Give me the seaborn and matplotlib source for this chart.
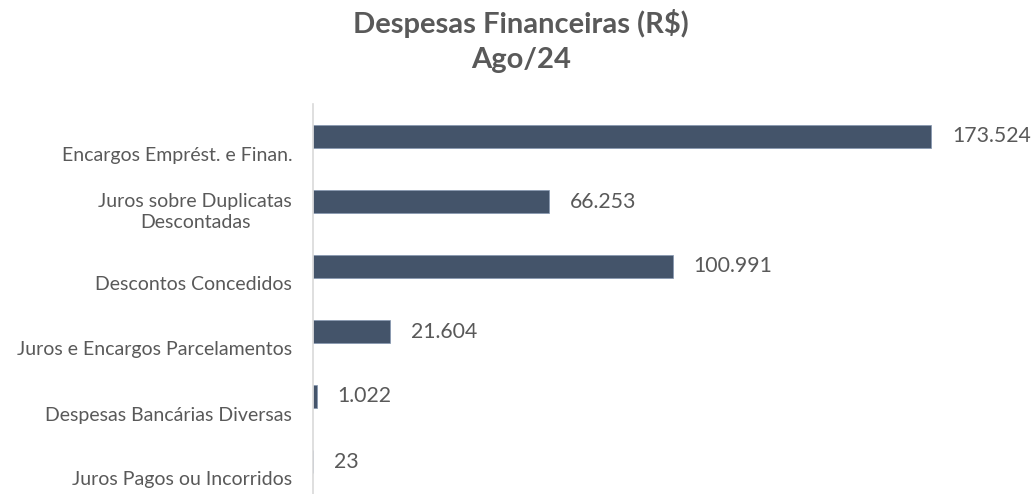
import matplotlib
matplotlib.use("Agg")
import matplotlib.pyplot as plt
import matplotlib.transforms as mtransforms
import pandas as pd
import seaborn as sns

# dados do grafico (R$, Ago/24)
categorias = [
    "Encargos Emprést. e Finan.",
    "Juros sobre Duplicatas\nDescontadas",
    "Descontos Concedidos",
    "Juros e Encargos Parcelamentos",
    "Despesas Bancárias Diversas",
    "Juros Pagos ou Incorridos",
]
valores = [173524, 66253, 100991, 21604, 1022, 23]

df = pd.DataFrame({"categoria": categorias, "valor": valores})

sns.set_style("white")
plt.rcParams["font.family"] = ["Lato", "DejaVu Sans"]

cor_barra = "#44546A"
cor_texto = "#595959"

fig = plt.figure(figsize=(10.35, 4.94), dpi=100)
# area do grafico: eixo em x=313px, topo em y=104px
ax = fig.add_axes([313 / 1035, 0.0, 687 / 1035, 390 / 494])

sns.barplot(data=df, x="valor", y="categoria", orient="h", color=cor_barra,
            width=0.35, edgecolor="#8496B0", linewidth=0.5, saturation=1, ax=ax)

ax.set_xlim(0, max(valores) * 687 / 618)
ax.set_ylim(len(categorias) - 0.5, -0.5)
ax.set_xlabel("")
ax.set_ylabel("")
ax.set_xticks([])

for s in ["top", "right", "bottom"]:
    ax.spines[s].set_visible(False)
ax.spines["left"].set_color("#D9D9D9")
ax.spines["left"].set_linewidth(1.2)

ax.tick_params(axis="y", length=0, pad=15, labelsize=14, labelcolor=cor_texto)
# rotulos das categorias ficam um pouco abaixo das barras (estilo Excel)
for lbl in ax.get_yticklabels():
    dy = -0.07 if "\n" in lbl.get_text() else -0.17
    desloc = mtransforms.ScaledTranslation(0, dy, fig.dpi_scale_trans)
    lbl.set_transform(lbl.get_transform() + desloc)
    lbl.set_multialignment("center")
    lbl.set_linespacing(1.25)

for i, v in enumerate(valores):
    txt = f"{v:,}".replace(",", ".")
    ax.annotate(txt, xy=(v, i), xytext=(15, 0), textcoords="offset points",
                va="center", ha="left", fontsize=15.3, color=cor_texto)

fig.text(0.503, 0.952, "Despesas Financeiras (R$)", ha="center", va="center",
         fontsize=21, fontweight="bold", color=cor_texto)
fig.text(0.503, 0.878, "Ago/24", ha="center", va="center",
         fontsize=21, fontweight="bold", color=cor_texto)

fig.savefig("out.png", dpi=100)
